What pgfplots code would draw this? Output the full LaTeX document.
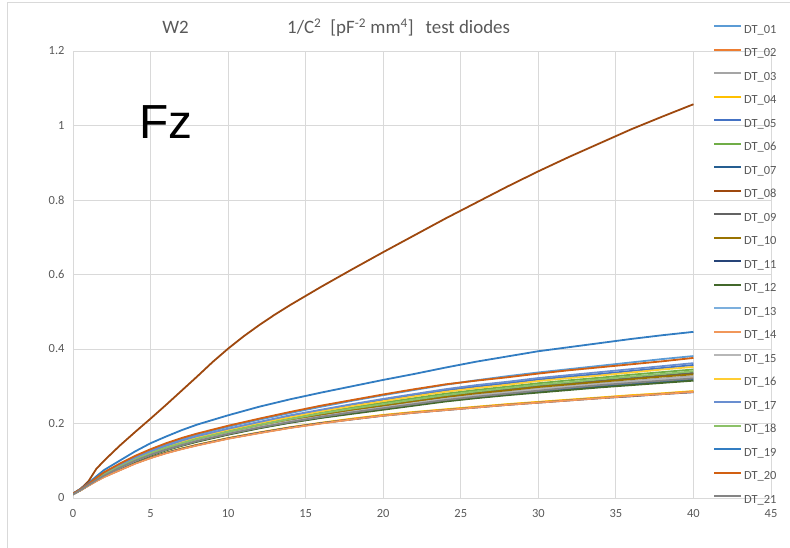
\documentclass[border=0pt]{standalone}
\usepackage{fontspec}
\setmainfont{Carlito}
\newfontfamily\arialf{Liberation Sans}
\usepackage{pgfplots}
\usepackage{pgfplotstable}
\pgfplotsset{compat=1.18}
\definecolor{c01}{HTML}{5B9BD5}
\definecolor{c02}{HTML}{ED7D31}
\definecolor{c03}{HTML}{A5A5A5}
\definecolor{c04}{HTML}{FFC000}
\definecolor{c05}{HTML}{4472C4}
\definecolor{c06}{HTML}{70AD47}
\definecolor{c07}{HTML}{255E91}
\definecolor{c08}{HTML}{9E480E}
\definecolor{c09}{HTML}{636363}
\definecolor{c10}{HTML}{997300}
\definecolor{c11}{HTML}{264478}
\definecolor{c12}{HTML}{43682B}
\definecolor{c13}{HTML}{7CAFDD}
\definecolor{c14}{HTML}{F1975A}
\definecolor{c15}{HTML}{B7B7B7}
\definecolor{c16}{HTML}{FFCD33}
\definecolor{c17}{HTML}{698ED0}
\definecolor{c18}{HTML}{8CC168}
\definecolor{c19}{HTML}{327DC2}
\definecolor{c20}{HTML}{D26012}
\definecolor{c21}{HTML}{848484}
\definecolor{tickgray}{HTML}{595959}
\definecolor{gridgray}{HTML}{D9D9D9}

\pgfplotstableread{
x d01 d02 d03 d04 d05 d06 d07 d09 d10 d11 d12 d13 d14 d15 d16 d17 d18 d19 d20 d21
0 0.012 0.010 0.010 0.010 0.011 0.011 0.010 0.011 0.010 0.010 0.010 0.010 0.010 0.010 0.011 0.011 0.011 0.012 0.012 0.010
0.5 0.024 0.021 0.022 0.021 0.023 0.023 0.022 0.023 0.022 0.021 0.022 0.022 0.021 0.022 0.023 0.023 0.023 0.025 0.024 0.022
1 0.038 0.034 0.035 0.034 0.037 0.036 0.035 0.036 0.036 0.034 0.035 0.035 0.033 0.035 0.037 0.037 0.036 0.040 0.038 0.035
1.5 0.053 0.046 0.049 0.046 0.051 0.050 0.048 0.050 0.049 0.046 0.048 0.048 0.045 0.049 0.051 0.052 0.050 0.058 0.054 0.048
2 0.067 0.057 0.061 0.057 0.065 0.064 0.060 0.062 0.062 0.057 0.060 0.061 0.056 0.061 0.064 0.066 0.063 0.075 0.069 0.060
3 0.089 0.075 0.082 0.076 0.086 0.084 0.080 0.083 0.082 0.075 0.080 0.081 0.074 0.081 0.086 0.087 0.084 0.100 0.092 0.081
4 0.110 0.093 0.101 0.094 0.107 0.104 0.099 0.103 0.102 0.093 0.098 0.100 0.092 0.100 0.106 0.108 0.103 0.125 0.113 0.100
5 0.128 0.108 0.117 0.109 0.124 0.121 0.115 0.119 0.118 0.108 0.114 0.116 0.107 0.117 0.123 0.125 0.120 0.147 0.131 0.116
6 0.144 0.121 0.131 0.122 0.139 0.136 0.129 0.134 0.133 0.121 0.128 0.130 0.120 0.131 0.138 0.140 0.135 0.165 0.147 0.130
7 0.158 0.132 0.144 0.133 0.152 0.149 0.141 0.146 0.145 0.132 0.140 0.142 0.131 0.143 0.151 0.154 0.147 0.182 0.161 0.142
8 0.170 0.142 0.155 0.143 0.164 0.160 0.152 0.158 0.156 0.142 0.151 0.154 0.141 0.154 0.163 0.166 0.159 0.197 0.173 0.153
10 0.191 0.160 0.174 0.161 0.184 0.180 0.171 0.177 0.176 0.160 0.170 0.173 0.159 0.173 0.183 0.186 0.178 0.222 0.194 0.172
12 0.210 0.175 0.192 0.176 0.203 0.198 0.188 0.195 0.193 0.175 0.187 0.190 0.174 0.191 0.201 0.204 0.196 0.245 0.213 0.189
14 0.228 0.189 0.207 0.190 0.219 0.214 0.203 0.211 0.209 0.189 0.202 0.205 0.188 0.206 0.217 0.222 0.212 0.265 0.231 0.204
16 0.245 0.201 0.221 0.202 0.235 0.229 0.216 0.225 0.223 0.201 0.215 0.218 0.200 0.219 0.233 0.237 0.227 0.283 0.248 0.218
18 0.261 0.212 0.233 0.213 0.249 0.243 0.228 0.238 0.236 0.211 0.226 0.231 0.211 0.232 0.247 0.252 0.240 0.300 0.263 0.230
20 0.276 0.222 0.245 0.223 0.263 0.256 0.239 0.250 0.248 0.221 0.237 0.242 0.221 0.243 0.260 0.266 0.252 0.317 0.278 0.241
22 0.290 0.230 0.256 0.231 0.276 0.268 0.250 0.262 0.259 0.229 0.248 0.253 0.229 0.255 0.273 0.279 0.264 0.333 0.292 0.252
24 0.304 0.237 0.268 0.238 0.289 0.280 0.261 0.274 0.271 0.236 0.259 0.265 0.236 0.266 0.285 0.292 0.276 0.350 0.305 0.263
26 0.316 0.244 0.277 0.245 0.299 0.290 0.270 0.283 0.281 0.243 0.268 0.274 0.243 0.275 0.295 0.303 0.286 0.366 0.315 0.272
28 0.327 0.251 0.285 0.252 0.308 0.299 0.278 0.292 0.289 0.250 0.276 0.282 0.250 0.283 0.304 0.312 0.295 0.380 0.324 0.280
30 0.337 0.257 0.294 0.258 0.318 0.308 0.286 0.301 0.298 0.256 0.283 0.290 0.256 0.292 0.314 0.322 0.304 0.394 0.334 0.288
32 0.346 0.263 0.301 0.264 0.326 0.316 0.293 0.308 0.305 0.262 0.290 0.297 0.262 0.299 0.322 0.330 0.311 0.405 0.343 0.296
34 0.355 0.269 0.308 0.270 0.333 0.323 0.300 0.315 0.312 0.268 0.297 0.304 0.268 0.306 0.329 0.338 0.319 0.416 0.351 0.303
36 0.364 0.275 0.314 0.276 0.341 0.331 0.306 0.322 0.319 0.273 0.303 0.311 0.274 0.312 0.337 0.346 0.326 0.427 0.359 0.309
38 0.373 0.280 0.321 0.281 0.349 0.338 0.312 0.329 0.326 0.279 0.309 0.317 0.279 0.319 0.345 0.354 0.333 0.437 0.367 0.315
40 0.381 0.286 0.327 0.287 0.357 0.345 0.318 0.336 0.332 0.284 0.315 0.323 0.285 0.325 0.352 0.362 0.340 0.446 0.376 0.321
}\data

% DT_08 on a finer grid
\pgfplotstableread{
x y
0 0.010
0.5 0.025
1 0.045
1.5 0.078
2 0.100
3 0.140
4 0.177
5 0.213
6 0.250
7 0.288
8 0.326
9 0.365
10 0.401
11 0.434
12 0.464
13 0.492
14 0.518
16 0.567
18 0.614
20 0.660
22 0.705
24 0.750
26 0.793
28 0.836
30 0.877
32 0.916
34 0.953
36 0.990
38 1.024
40 1.057
}\dataE

\begin{document}
\begin{tikzpicture}[x=1bp,y=1bp]
\useasboundingbox (0,0) rectangle (790,548);
\draw[gridgray, line width=1bp] (7,0) -- (7,545) -- (790,545);
\begin{axis}[
  at={(73bp,50bp)}, anchor=south west,
  scale only axis, width=698bp, height=447bp,
  xmin=0, xmax=45, ymin=0, ymax=1.2,
  xtick={0,5,...,45}, ytick={0,0.2,0.4,0.6,0.8,1,1.2},
  grid=major, grid style={gridgray, line width=0.9bp},
  axis line style={draw=none},
  major tick length=0pt,
  /pgf/number format/assume math mode=true,
  tick label style={font=\fontsize{12.5}{15}\selectfont, text=tickgray},
  xticklabel style={yshift=-8bp},
  yticklabel style={xshift=-5bp},
  every axis plot/.append style={line width=1.8bp},
  legend image code/.code={\draw[#1] (0bp,3.8bp) -- (27bp,3.8bp);},
  legend cell align=left,
  legend style={at={(0.917,1.0604)}, anchor=north west, draw=none, fill=none,
    font=\fontsize{12.5}{14}\selectfont, text=tickgray, inner sep=0pt,
    row sep=11.5bp,
    nodes={inner sep=1bp, text height=8bp, text depth=2bp},
    /tikz/every odd column/.append style={column sep=1bp}},
]
\addplot[c01] table[x=x,y=d01]{\data}; \addlegendentry{DT\_01}
\addplot[c02] table[x=x,y=d02]{\data}; \addlegendentry{DT\_02}
\addplot[c03] table[x=x,y=d03]{\data}; \addlegendentry{DT\_03}
\addplot[c04] table[x=x,y=d04]{\data}; \addlegendentry{DT\_04}
\addplot[c05] table[x=x,y=d05]{\data}; \addlegendentry{DT\_05}
\addplot[c06] table[x=x,y=d06]{\data}; \addlegendentry{DT\_06}
\addplot[c07] table[x=x,y=d07]{\data}; \addlegendentry{DT\_07}
\addplot[c08] table[x=x,y=y]{\dataE}; \addlegendentry{DT\_08}
\addplot[c09] table[x=x,y=d09]{\data}; \addlegendentry{DT\_09}
\addplot[c10] table[x=x,y=d10]{\data}; \addlegendentry{DT\_10}
\addplot[c11] table[x=x,y=d11]{\data}; \addlegendentry{DT\_11}
\addplot[c12] table[x=x,y=d12]{\data}; \addlegendentry{DT\_12}
\addplot[c13] table[x=x,y=d13]{\data}; \addlegendentry{DT\_13}
\addplot[c14] table[x=x,y=d14]{\data}; \addlegendentry{DT\_14}
\addplot[c15] table[x=x,y=d15]{\data}; \addlegendentry{DT\_15}
\addplot[c16] table[x=x,y=d16]{\data}; \addlegendentry{DT\_16}
\addplot[c17] table[x=x,y=d17]{\data}; \addlegendentry{DT\_17}
\addplot[c18] table[x=x,y=d18]{\data}; \addlegendentry{DT\_18}
\addplot[c19] table[x=x,y=d19]{\data}; \addlegendentry{DT\_19}
\addplot[c20] table[x=x,y=d20]{\data}; \addlegendentry{DT\_20}
\addplot[c21] table[x=x,y=d21]{\data}; \addlegendentry{DT\_21}
\end{axis}
\node[anchor=base, font=\fontsize{19}{22}\selectfont, text=tickgray, inner sep=0pt] at (175.5,514.7) {W2};
\node[anchor=base west, font=\fontsize{19}{22}\selectfont, text=tickgray, inner sep=0pt] at (287,514.7)
  {1/C\textsuperscript{2}\hspace{9bp}[pF\textsuperscript{-2} mm\textsuperscript{4}]\hspace{12bp}test diodes};
\node[anchor=base west, font=\arialf\fontsize{48}{52}\selectfont, inner sep=0pt] at (139.5,409.7) {Fz};
\end{tikzpicture}
\end{document}
